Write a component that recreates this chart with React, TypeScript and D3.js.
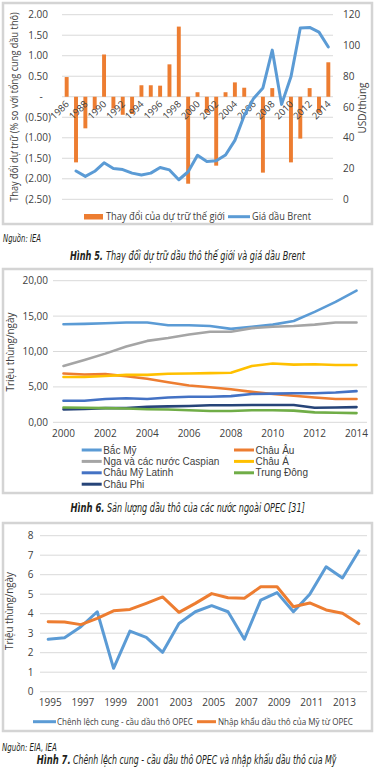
import React, { useLayoutEffect, useRef, useState } from 'react';
import * as d3 from 'd3';

// ---------- Chart 1 data ----------
const years1 = ['1986','1987','1988','1989','1990','1991','1992','1993','1994','1995','1996','1997','1998','1999','2000','2001','2002','2003','2004','2005','2006','2007','2008','2009','2010','2011','2012','2013','2014'];
const reserveChange = [0.48,-1.60,-0.77,-0.31,1.03,-0.29,-0.44,-0.42,0.28,0.28,0.27,0.79,1.71,-2.12,0.11,-0.39,-1.68,0.11,0.35,0.22,0,-1.85,0.21,0,-1.60,-1.02,0.21,-0.39,0.84];
const brentPrice: (number | null)[] = [null,18.4,14.9,18.2,23.7,20.0,19.3,17.0,15.8,17.0,20.7,19.1,12.7,17.9,28.6,24.5,25.0,28.8,38.3,54.5,65.6,72.4,97.0,61.7,79.6,111.3,111.7,108.7,99.0];
const leftTicks1 = [2, 1.5, 1, 0.5, 0, -0.5, -1, -1.5, -2, -2.5];
const rightTicks1 = [0, 20, 40, 60, 80, 100, 120];
const xLabels1 = ['1986','1988','1990','1992','1994','1996','1998','2000','2002','2004','2006','2008','2010','2012','2014'];

// ---------- Chart 2 data ----------
const years2 = ['2000','2001','2002','2003','2004','2005','2006','2007','2008','2009','2010','2011','2012','2013','2014'];
const bacMy = [13.84,13.9,14.0,14.1,14.1,13.7,13.7,13.6,13.2,13.5,13.8,14.3,15.6,17.0,18.6];
const chauAu = [6.9,6.75,6.8,6.5,6.15,5.65,5.2,4.94,4.66,4.3,4.0,3.76,3.5,3.3,3.3];
const nga = [7.95,8.8,9.7,10.7,11.5,11.9,12.4,12.8,12.8,13.3,13.5,13.6,13.8,14.1,14.1];
const chauA = [6.4,6.4,6.55,6.7,6.7,6.85,6.9,6.95,7.0,7.95,8.3,8.15,8.2,8.1,8.1];
const myLatinh = [3.05,3.05,3.3,3.4,3.3,3.5,3.6,3.6,3.7,4.0,4.05,4.1,4.1,4.2,4.4];
const trungDong = [2.1,2.05,2.0,1.95,1.85,1.8,1.7,1.6,1.6,1.7,1.7,1.65,1.4,1.35,1.3];
const chauPhi = [1.83,1.9,2.0,2.0,2.2,2.25,2.3,2.4,2.4,2.45,2.45,2.45,2.05,2.1,2.15];
const seriesNames2 = ['Bắc Mỹ','Châu Âu','Nga và các nước Caspian','Châu Á','Châu Mỹ Latinh','Trung Đông','Châu Phi'];
const seriesColors2 = ['#5B9BD5','#ED7D31','#A5A5A5','#FFC000','#4472C4','#70AD47','#264478'];
const yTicks2 = [0, 5, 10, 15, 20];
const xLabels2 = ['2000','2002','2004','2006','2008','2010','2012','2014'];

// ---------- Chart 3 data ----------
const years3 = ['1995','1996','1997','1998','1999','2000','2001','2002','2003','2004','2005','2006','2007','2008','2009','2010','2011','2012','2013','2014'];
const opecGap = [2.69,2.77,3.33,4.1,1.2,3.11,2.79,2.02,3.5,4.1,4.41,4.1,2.69,4.7,5.08,4.1,5.0,6.41,5.83,7.22];
const usImports = [3.59,3.57,3.44,3.76,4.15,4.22,4.53,4.86,4.07,4.53,5.03,4.82,4.79,5.38,5.38,4.36,4.55,4.19,4.02,3.49];
const yTicks3 = [0,1,2,3,4,5,6,7,8];
const xLabels3 = ['1995','1997','1999','2001','2003','2005','2007','2009','2011','2013'];

const FONT = "'Open Sans', 'Noto Sans', sans-serif";
const LEG_FONT = "'Liberation Sans', Arial, sans-serif";
const CAP_FONT = "'Liberation Sans Narrow', 'DejaVu Sans Condensed', 'Noto Sans', sans-serif";
const TXT = '#404040';
const GRID = '#D9D9D9';
const BORDER = '#D4D4D4';

function fmtAcc(v: number) {
  if (v === 0) return '-';
  const s = Math.abs(v).toFixed(2);
  return v < 0 ? `(${s})` : s;
}
const fmtComma = (v: number) => v.toFixed(2).replace('.', ',');

// Text squeezed horizontally (via transform) to a target width.
function FitText({ x, y, w, rotate = 0, anchor = 'start', size = 10, family = FONT, fill = TXT, italic = false, bold = false, children }:
  { x: number; y: number; w: number; rotate?: number; anchor?: 'start' | 'middle' | 'end'; size?: number; family?: string; fill?: string; italic?: boolean; bold?: boolean; children: string }) {
  const ref = useRef<SVGTextElement>(null);
  const [s, setS] = useState(1);
  useLayoutEffect(() => {
    if (ref.current) {
      const len = ref.current.getComputedTextLength();
      if (len > 0) setS(w / len);
    }
  }, [w, children]);
  return (
    <text ref={ref} transform={`translate(${x},${y}) rotate(${rotate}) scale(${s},1)`} textAnchor={anchor}
      fontSize={size} fontFamily={family} fill={fill} fontStyle={italic ? 'italic' : 'normal'} fontWeight={bold ? 'bold' : 'normal'}>
      {children}
    </text>
  );
}

function Box({ y, h }: { y: number; h: number }) {
  return <rect x={3} y={y} width={369} height={h} fill="#fff" stroke={BORDER} strokeWidth={2.5} />;
}

function Chart1() {
  const x = d3.scaleBand<string>().domain(years1).range([62, 333]).paddingInner(0.58).paddingOuter(0.29);
  const cx = (yr: string) => (x(yr) as number) + x.bandwidth() / 2;
  const yL = d3.scaleLinear().domain([-2.5, 2]).range([199.3, 14.7]);
  const yR = d3.scaleLinear().domain([0, 120]).range([199.3, 14.7]);
  const line = d3.line<number | null>()
    .defined((d) => d != null)
    .x((_, i) => cx(years1[i]))
    .y((d) => yR(d as number));
  const y0 = yL(0);
  return (
    <g>
      <Box y={3} h={221} />
      {leftTicks1.map((t) => (
        <line key={'g' + t} x1={62} x2={333} y1={yL(t)} y2={yL(t)} stroke={GRID} strokeWidth={1} />
      ))}
      {reserveChange.map((v, i) => (
        <rect key={'b' + i} x={x(years1[i])} width={x.bandwidth()} y={Math.min(yL(v), y0)} height={Math.abs(yL(v) - y0)} fill="#ED7D31" />
      ))}
      {xLabels1.map((yr) => (
        <text key={'xl' + yr} transform={`translate(${cx(yr) + 3},${y0 + 8}) rotate(-45)`} textAnchor="end" fontSize={9.5} fill={TXT} fontFamily={FONT}>{yr}</text>
      ))}
      <path d={line(brentPrice) || ''} fill="none" stroke="#5B9BD5" strokeWidth={3} strokeLinejoin="round" strokeLinecap="round" />
      {leftTicks1.map((t) => (
        <text key={'lt' + t} x={t === 0 ? 41 : t < 0 ? 51 : 48} y={yL(t) + 3.5} textAnchor={t === 0 ? 'middle' : 'end'} fontSize={10} fill={TXT} fontFamily={FONT}>{fmtAcc(t)}</text>
      ))}
      {rightTicks1.map((t) => (
        <text key={'rt' + t} x={343} y={yR(t) + 3.5} fontSize={10} fill={TXT} fontFamily={FONT}>{t}</text>
      ))}
      <FitText x={18} y={107} w={190} rotate={-90} anchor="middle" size={10}>Thay đổi dự trữ (% so với tổng cung dầu thô)</FitText>
      <text transform="translate(366,108) rotate(-90)" textAnchor="middle" fontSize={10} fill={TXT} fontFamily={FONT}>USD/thùng</text>
      <rect x={84} y={214} width={19} height={5.5} fill="#ED7D31" />
      <FitText x={106} y={220} w={119} size={10.5}>Thay đổi của dự trữ thế giới</FitText>
      <line x1={228} x2={250} y1={216.7} y2={216.7} stroke="#5B9BD5" strokeWidth={3} />
      <FitText x={252} y={220} w={59} size={10.5}>Giá dầu Brent</FitText>
    </g>
  );
}

function Chart2() {
  const x = d3.scalePoint<string>().domain(years2).range([53, 367]).padding(0.5);
  const y = d3.scaleLinear().domain([0, 20]).range([422.3, 280.7]);
  const data = [bacMy, chauAu, nga, chauA, myLatinh, trungDong, chauPhi];
  const line = d3.line<number>().x((_, i) => x(years2[i]) as number).y((d) => y(d));
  const drawOrder = [0, 1, 2, 3, 4, 6, 5];
  return (
    <g>
      <Box y={269} h={224} />
      {yTicks2.map((t) => (
        <line key={'g' + t} x1={53} x2={367} y1={y(t)} y2={y(t)} stroke={GRID} strokeWidth={1} />
      ))}
      {drawOrder.map((k) => (
        <path key={'s' + k} d={line(data[k]) || ''} fill="none" stroke={seriesColors2[k]} strokeWidth={2.6} strokeLinejoin="round" strokeLinecap="round" />
      ))}
      {yTicks2.map((t) => (
        <text key={'yl' + t} x={48} y={y(t) + 3.5} textAnchor="end" fontSize={10} fill={TXT} fontFamily={FONT}>{fmtComma(t)}</text>
      ))}
      {xLabels2.map((yr) => (
        <text key={'xl' + yr} x={x(yr)} y={437} textAnchor="middle" fontSize={10} fill={TXT} fontFamily={FONT}>{yr}</text>
      ))}
      <FitText x={14} y={352} w={79} rotate={-90} anchor="middle" size={10.5}>Triệu thùng/ngày</FitText>
      {seriesNames2.map((nm, i) => {
        const col = i % 2;
        const row = Math.floor(i / 2);
        const sx = col === 0 ? 81.7 : 234;
        const ly = 450 + row * 11.4;
        return (
          <g key={'lg' + i}>
            <line x1={sx} x2={sx + 20} y1={ly} y2={ly} stroke={seriesColors2[i]} strokeWidth={3} />
            <text x={sx + 21.5} y={ly + 3.6} fontSize={10} fill={TXT} fontFamily={LEG_FONT}>{nm}</text>
          </g>
        );
      })}
    </g>
  );
}

function Chart3() {
  const x = d3.scalePoint<string>().domain(years3).range([40, 367]).padding(0.5);
  const y = d3.scaleLinear().domain([0, 8]).range([691.7, 535.7]);
  const line = d3.line<number>().x((_, i) => x(years3[i]) as number).y((d) => y(d));
  return (
    <g>
      <Box y={523} h={208} />
      {yTicks3.map((t) => (
        <line key={'g' + t} x1={40} x2={367} y1={y(t)} y2={y(t)} stroke={GRID} strokeWidth={1} />
      ))}
      <path d={line(opecGap) || ''} fill="none" stroke="#5B9BD5" strokeWidth={3} strokeLinejoin="round" strokeLinecap="round" />
      <path d={line(usImports) || ''} fill="none" stroke="#ED7D31" strokeWidth={3} strokeLinejoin="round" strokeLinecap="round" />
      {yTicks3.map((t) => (
        <text key={'yl' + t} x={33.5} y={y(t) + 3.5} textAnchor="end" fontSize={10} fill={TXT} fontFamily={FONT}>{t}</text>
      ))}
      {xLabels3.map((yr) => (
        <text key={'xl' + yr} x={(x(yr) as number) + 2} y={706} textAnchor="middle" fontSize={10} fill={TXT} fontFamily={FONT}>{yr}</text>
      ))}
      <FitText x={13} y={611} w={78} rotate={-90} anchor="middle" size={10.5}>Triệu thùng/ngày</FitText>
      <line x1={33} x2={56} y1={721.7} y2={721.7} stroke="#5B9BD5" strokeWidth={3} />
      <FitText x={57} y={725} w={136} size={9.5}>Chênh lệch cung - cầu dầu thô OPEC</FitText>
      <line x1={197} x2={216} y1={721.7} y2={721.7} stroke="#ED7D31" strokeWidth={3} />
      <FitText x={218} y={725} w={135} size={9.5}>Nhập khẩu dầu thô của Mỹ từ OPEC</FitText>
    </g>
  );
}

function Caption({ x, y, bw, x2, w2, bold, rest }: { x: number; y: number; bw: number; x2: number; w2: number; bold: string; rest: string }) {
  return (
    <g>
      <FitText x={x} y={y} w={bw} size={13} family={CAP_FONT} fill="#231F20" italic bold>{bold}</FitText>
      <FitText x={x2} y={y} w={w2} size={13} family={CAP_FONT} fill="#231F20" italic>{rest}</FitText>
    </g>
  );
}

export default function App() {
  return (
    <svg width={377} height={770} style={{ position: 'absolute', left: 0, top: 0, background: '#fff' }}>
      <rect x={0} y={0} width={377} height={770} fill="#fff" />
      <Chart1 />
      <FitText x={3} y={241.5} w={38} size={10.5} family={CAP_FONT} fill="#231F20" italic>Nguồn: IEA</FitText>
      <Caption x={70} y={259.5} bw={33} x2={106} w2={199} bold="Hình 5." rest="Thay đổi dự trữ dầu thô thế giới và giá dầu Brent" />
      <Chart2 />
      <Caption x={70.5} y={512} bw={34} x2={107} w2={198} bold="Hình 6." rest="Sản lượng dầu thô của các nước ngoài OPEC [31]" />
      <Chart3 />
      <FitText x={2} y={750.5} w={55} size={10.5} family={CAP_FONT} fill="#231F20" italic>Nguồn: EIA, IEA</FitText>
      <Caption x={36.7} y={763.5} bw={34} x2={73} w2={263.7} bold="Hình 7." rest="Chênh lệch cung - cầu dầu thô OPEC và nhập khẩu dầu thô của Mỹ" />
    </svg>
  );
}
